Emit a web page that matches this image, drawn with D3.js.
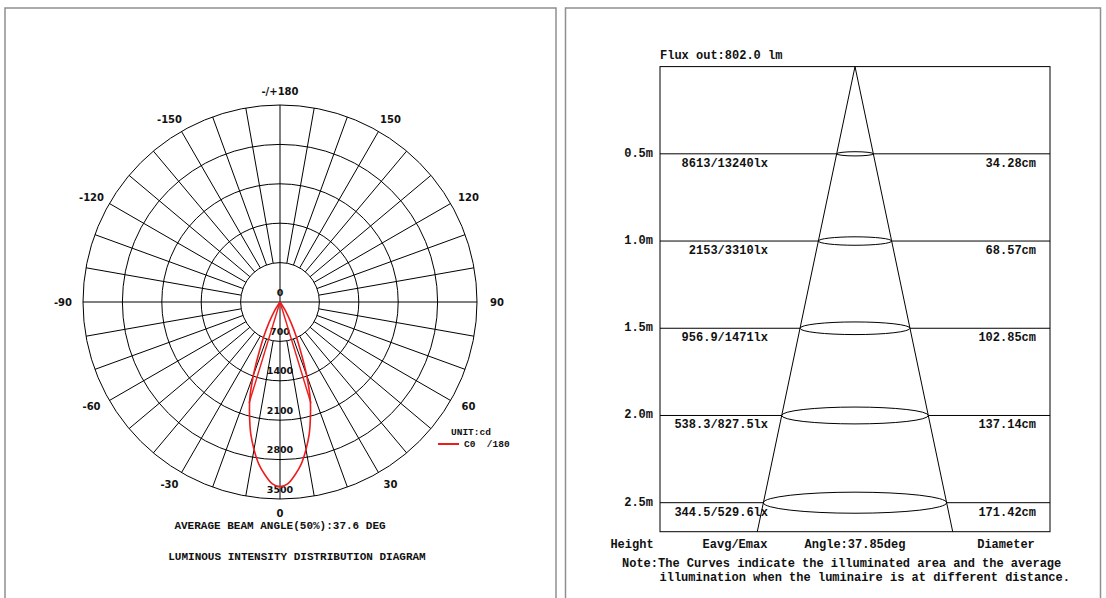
<!DOCTYPE html>
<html><head><meta charset="utf-8">
<script src="https://cdn.jsdelivr.net/npm/d3@7"></script>
<style>
html,body{margin:0;padding:0;background:#fff;}
svg{display:block;}
.mono{font-family:"Liberation Mono","Courier New",monospace;font-weight:bold;fill:#111;}
.sans{font-family:"DejaVu Sans",Verdana,sans-serif;font-weight:bold;fill:#111;}
</style>
</head><body>
<svg id="chart" width="1106" height="598"></svg>
<script>
// ---------- DATA ----------
// Polar (luminous intensity distribution), gamma angle in degrees (0 = straight down), value in cd
const ringValues = [700, 1400, 2100, 2800, 3500];
const ringLabels = ["0", "700", "1400", "2100", "2800", "3500"];
const angleLabelValues = [180, -150, 150, -120, 120, -90, 90, -60, 60, -30, 30, 0];
const angleLabelTexts = ["-/+180", "-150", "150", "-120", "120", "-90", "90", "-60", "60", "-30", "30", "0"];
const curveAngles = [-36, -32, -28, -25, -22, -20, -17.5, -15, -12.5, -10, -7.5, -5, -2.5, 0, 2.5, 5, 7.5, 10, 12.5, 15, 17.5, 20, 22, 25, 28, 32, 36];
const curveValues = [0, 180, 420, 700, 1050, 1380, 1780, 2090, 2400, 2660, 2900, 3080, 3230, 3280, 3230, 3080, 2900, 2660, 2400, 2090, 1780, 1380, 1050, 700, 420, 180, 0];
const innerAngles = [-17, 17];
const innerValues = [1880, 1880];
const legendSeries = "C0  /180";
const beamAngleText = "AVERAGE BEAM ANGLE(50%):37.6 DEG";
const polarTitle = "LUMINOUS INTENSITY DISTRIBUTION DIAGRAM";

// Illuminance cone diagram
const heights = [0.5, 1.0, 1.5, 2.0, 2.5];
const heightLabels = ["0.5m", "1.0m", "1.5m", "2.0m", "2.5m"];
const eavgEmax = ["8613/13240lx", "2153/3310lx", "956.9/1471lx", "538.3/827.5lx", "344.5/529.6lx"];
const diameters = [34.28, 68.57, 102.85, 137.14, 171.42];
const diameterLabels = ["34.28cm", "68.57cm", "102.85cm", "137.14cm", "171.42cm"];
const fluxText = "Flux out:802.0 lm";
const footerLabels = ["Height", "Eavg/Emax", "Angle:37.85deg", "Diameter"];
const noteLines = ["Note:The Curves indicate the illuminated area and the average",
                   "illumination when the luminaire is at different distance."];

// ---------- DRAW ----------
const svg = d3.select("#chart");

// panel frames
svg.append("rect").attr("x", 5).attr("y", 8).attr("width", 551).attr("height", 620)
  .attr("fill", "none").attr("stroke", "#8f8f8f").attr("stroke-width", 1.5);
svg.append("rect").attr("x", 565.5).attr("y", 8).attr("width", 535).attr("height", 620)
  .attr("fill", "none").attr("stroke", "#8f8f8f").attr("stroke-width", 1.5);

// ---- Polar chart ----
const cx = 280, cy = 302, R = 197;
const r = d3.scaleLinear().domain([0, 3500]).range([0, R]);
const rad = d => d * Math.PI / 180;
const px = (a, v) => cx + r(v) * Math.sin(rad(a));
const py = (a, v) => cy + r(v) * Math.cos(rad(a));

const g = svg.append("g");
// rings
g.selectAll("circle.ring").data(ringValues).join("circle")
  .attr("cx", cx).attr("cy", cy).attr("r", d => r(d))
  .attr("fill", "none").attr("stroke", "#000").attr("stroke-width", 1);
// spokes every 10 deg, from inner ring to outer ring
const spokes = d3.range(0, 360, 10).filter(a => a % 90 !== 0);
g.selectAll("line.spoke").data(spokes).join("line")
  .attr("x1", a => px(a, ringValues[0])).attr("y1", a => py(a, ringValues[0]))
  .attr("x2", a => px(a, 3500)).attr("y2", a => py(a, 3500))
  .attr("stroke", "#000").attr("stroke-width", 1);
// axes through center
g.append("line").attr("x1", cx - R).attr("x2", cx + R).attr("y1", cy).attr("y2", cy).attr("stroke", "#000");
g.append("line").attr("x1", cx).attr("x2", cx).attr("y1", cy - R).attr("y2", cy + R).attr("stroke", "#000");

// ring labels
g.selectAll("text.rl").data(ringLabels).join("text")
  .attr("class", "sans").attr("font-size", 9.5)
  .attr("x", cx).attr("y", (d, i) => cy + r(i * 700) - 10)
  .attr("text-anchor", "middle").attr("dominant-baseline", "central")
  .text(d => d);

// angle labels
const LR = 213;
g.selectAll("text.al").data(angleLabelValues).join("text")
  .attr("class", "sans").attr("font-size", 10)
  .attr("x", (a, i) => {
    const s = Math.sin(rad(a));
    const off = Math.abs(s) < 0.01 ? 0 : Math.sign(s) * 4;
    return cx + LR * s + off;
  })
  .attr("y", (a, i) => {
    const c = Math.cos(rad(a));
    return cy + LR * c - (Math.abs(c) > 0.01 ? Math.sign(c) * 2 : 0);
  })
  .attr("text-anchor", "middle").attr("dominant-baseline", "central")
  .text((a, i) => angleLabelTexts[i]);

// red intensity curve
const pts = curveAngles.map((a, i) => [px(a, curveValues[i]), py(a, curveValues[i])]);
g.append("path").attr("d", d3.line().curve(d3.curveCardinal.tension(0.3))(pts))
  .attr("fill", "none").attr("stroke", "#ee1c1c").attr("stroke-width", 1.6);
g.selectAll("line.inner").data(innerAngles).join("line")
  .attr("x1", cx).attr("y1", cy)
  .attr("x2", (a, i) => px(a, innerValues[i])).attr("y2", (a, i) => py(a, innerValues[i]))
  .attr("stroke", "#ee1c1c").attr("stroke-width", 1.4);

// legend
svg.append("text").attr("class", "mono").attr("font-size", 9.5)
  .attr("x", 451).attr("y", 432).attr("dominant-baseline", "central").text("UNIT:cd");
svg.append("line").attr("x1", 438).attr("x2", 459).attr("y1", 444).attr("y2", 444)
  .attr("stroke", "#ee1c1c").attr("stroke-width", 2);
svg.append("text").attr("class", "mono").attr("font-size", 9.5).attr("xml:space", "preserve")
  .style("white-space", "pre")
  .attr("x", 464).attr("y", 444).attr("dominant-baseline", "central").text(legendSeries);

svg.append("text").attr("class", "mono").attr("font-size", 11).attr("text-anchor", "middle")
  .attr("x", 280).attr("y", 526).attr("dominant-baseline", "central").text(beamAngleText);
svg.append("text").attr("class", "mono").attr("font-size", 11).attr("text-anchor", "middle")
  .attr("x", 297).attr("y", 557).attr("dominant-baseline", "central").text(polarTitle);

// ---- Cone diagram ----
const boxL = 660, boxR = 1050, boxT = 66.6, boxB = 531.7;
const y = d3.scaleLinear().domain([0, 2.5]).range([boxT, 502.7]);
const w = d3.scaleLinear().domain([0, 100]).range([0, 106.9]); // cm -> px
const ccx = 855;
const hBottom = y.invert(boxB);
const cmPerM = diameters[4] / heights[4];
const rg = svg.append("g");

rg.append("rect").attr("x", boxL).attr("y", boxT).attr("width", boxR - boxL).attr("height", boxB - boxT)
  .attr("fill", "none").attr("stroke", "#000").attr("stroke-width", 1);

// cone sides
[-1, 1].forEach(s => {
  rg.append("line").attr("x1", ccx).attr("y1", y(0))
    .attr("x2", ccx + s * w(cmPerM * hBottom) / 2).attr("y2", y(hBottom))
    .attr("stroke", "#000").attr("stroke-width", 1);
});

heights.forEach((h, i) => {
  const rx = w(diameters[i]) / 2, ry = rx * 0.115, yy = y(h);
  rg.append("line").attr("x1", boxL).attr("x2", ccx - rx).attr("y1", yy).attr("y2", yy).attr("stroke", "#000");
  rg.append("line").attr("x1", ccx + rx).attr("x2", boxR).attr("y1", yy).attr("y2", yy).attr("stroke", "#000");
  rg.append("ellipse").attr("cx", ccx).attr("cy", yy).attr("rx", rx).attr("ry", ry)
    .attr("fill", "none").attr("stroke", "#000").attr("stroke-width", 1);
  rg.append("text").attr("class", "mono").attr("font-size", 12).attr("text-anchor", "end")
    .attr("x", 653).attr("y", yy).attr("dominant-baseline", "central").text(heightLabels[i]);
  rg.append("text").attr("class", "mono").attr("font-size", 12).attr("text-anchor", "end")
    .attr("x", 768).attr("y", yy + 10).attr("dominant-baseline", "central").text(eavgEmax[i]);
  rg.append("text").attr("class", "mono").attr("font-size", 12).attr("text-anchor", "end")
    .attr("x", 1036).attr("y", yy + 10).attr("dominant-baseline", "central").text(diameterLabels[i]);
});

rg.append("text").attr("class", "mono").attr("font-size", 12)
  .attr("x", 660).attr("y", 56).attr("dominant-baseline", "central").text(fluxText);

const footerX = [632, 735, 855, 1006];
rg.selectAll("text.foot").data(footerLabels).join("text")
  .attr("class", "mono").attr("font-size", 12).attr("text-anchor", "middle")
  .attr("x", (d, i) => footerX[i]).attr("y", 545).attr("dominant-baseline", "central").text(d => d);
rg.append("text").attr("class", "mono").attr("font-size", 12)
  .attr("x", 622).attr("y", 563.5).attr("dominant-baseline", "central").text(noteLines[0]);
rg.append("text").attr("class", "mono").attr("font-size", 12)
  .attr("x", 659.5).attr("y", 578).attr("dominant-baseline", "central").text(noteLines[1]);
</script>
</body></html>
